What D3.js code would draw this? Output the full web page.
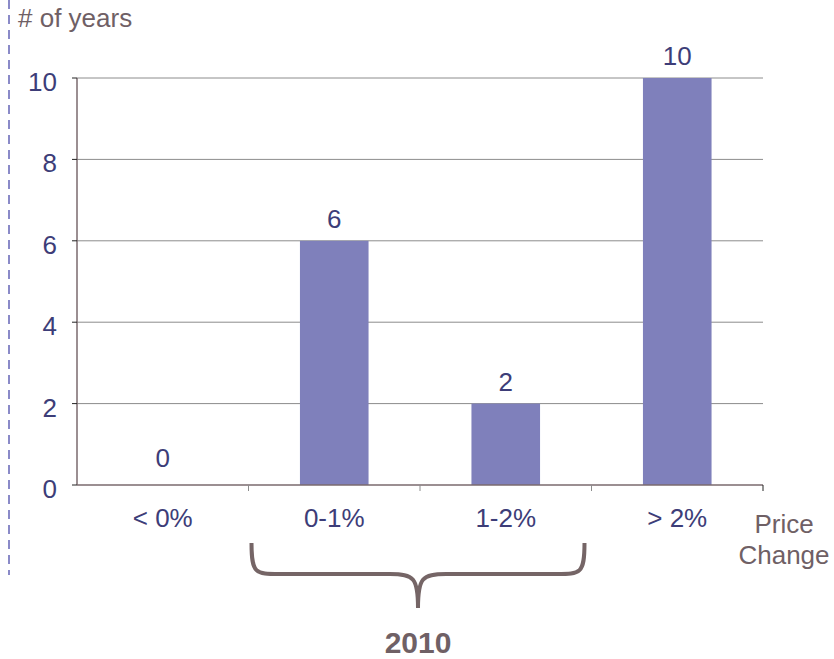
<!DOCTYPE html>
<html>
<head>
  <title>Price Change Histogram</title>
  <script src="https://d3js.org/d3.v7.min.js"></script>
  <style>
    body { margin: 0; background: #fff; }
    text { font-family: "Liberation Sans", Arial, sans-serif; }
  </style>
</head>
<body>
<svg width="834" height="659"></svg>
<script>
  const categories = ["< 0%", "0-1%", "1-2%", "> 2%"];
  const years = [0, 6, 2, 10];
  const yTicks = [0, 2, 4, 6, 8, 10];
  const bracketCats = ["0-1%", "1-2%"];
  const bracketLabel = "2010";

  const width = 834, height = 659;
  const plotLeft = 77, plotRight = 763, plotTop = 78, plotBottom = 485;

  const svg = d3.select("svg");

  const x = d3.scaleBand()
          .domain(categories)
          .range([plotLeft, plotRight])
          .paddingInner(0.6)
          .paddingOuter(0.3);
  const xEdge = d3.scaleBand().domain(categories).range([plotLeft, plotRight]);

  const y = d3.scaleLinear().domain([0, 10]).range([plotBottom, plotTop]);

  // dashed rule on the far left
  svg.append("line")
          .attr("x1", 9).attr("x2", 9)
          .attr("y1", 0).attr("y2", 575)
          .attr("stroke", "#8a8ac8")
          .attr("stroke-width", 2)
          .attr("stroke-dasharray", "9,6");

  // gridlines
  svg.selectAll(".grid")
          .data(yTicks.filter(d => d > 0))
          .enter().append("line")
          .attr("x1", plotLeft).attr("x2", plotRight)
          .attr("y1", d => y(d)).attr("y2", d => y(d))
          .attr("stroke", "#8c8c8c")
          .attr("stroke-width", 1);

  // bars
  svg.selectAll(".bar")
          .data(years)
          .enter().append("rect")
          .attr("x", (d, i) => x(categories[i]))
          .attr("width", x.bandwidth())
          .attr("y", d => y(d))
          .attr("height", d => y(0) - y(d))
          .attr("fill", "#7f80bb");

  // value labels
  svg.selectAll(".val")
          .data(years)
          .enter().append("text")
          .attr("x", (d, i) => x(categories[i]) + x.bandwidth() / 2)
          .attr("y", d => y(d) - (d === 0 ? 18 : 13))
          .attr("text-anchor", "middle")
          .attr("font-size", 26)
          .attr("fill", "#3d3d78")
          .text(d => d);

  // y axis
  svg.append("line")
          .attr("x1", plotLeft).attr("x2", plotLeft)
          .attr("y1", plotTop).attr("y2", plotBottom)
          .attr("stroke", "#7a6a6e").attr("stroke-width", 1.5);
  svg.selectAll(".ytick")
          .data(yTicks)
          .enter().append("line")
          .attr("x1", plotLeft - 5).attr("x2", plotLeft)
          .attr("y1", d => y(d)).attr("y2", d => y(d))
          .attr("stroke", "#222");
  svg.selectAll(".ylab")
          .data(yTicks)
          .enter().append("text")
          .attr("x", 57)
          .attr("y", d => y(d) + 13)
          .attr("text-anchor", "end")
          .attr("font-size", 26)
          .attr("fill", "#3d3d78")
          .text(d => d);

  // x axis
  svg.append("line")
          .attr("x1", plotLeft).attr("x2", plotRight)
          .attr("y1", plotBottom).attr("y2", plotBottom)
          .attr("stroke", "#7a6a6e").attr("stroke-width", 1.5);
  svg.selectAll(".xtick")
          .data(categories.slice(1))
          .enter().append("line")
          .attr("x1", d => xEdge(d)).attr("x2", d => xEdge(d))
          .attr("y1", plotBottom).attr("y2", plotBottom + 6)
          .attr("stroke", "#8c8c8c");
  svg.append("line")
          .attr("x1", plotRight).attr("x2", plotRight)
          .attr("y1", plotBottom).attr("y2", plotBottom + 6)
          .attr("stroke", "#222");
  svg.selectAll(".xlab")
          .data(categories)
          .enter().append("text")
          .attr("x", d => x(d) + x.bandwidth() / 2)
          .attr("y", 527)
          .attr("text-anchor", "middle")
          .attr("font-size", 26)
          .attr("fill", "#3d3d78")
          .text(d => d);

  // axis titles
  svg.append("text")
          .attr("x", 18).attr("y", 27)
          .attr("font-size", 26)
          .attr("fill", "#6f6065")
          .text("# of years");
  svg.append("text")
          .attr("x", 784).attr("y", 533)
          .attr("text-anchor", "middle")
          .attr("font-size", 26)
          .attr("fill", "#6f6065")
          .text("Price");
  svg.append("text")
          .attr("x", 784).attr("y", 564)
          .attr("text-anchor", "middle")
          .attr("font-size", 26)
          .attr("fill", "#6f6065")
          .text("Change");

  // curly brace under the 2010 categories
  const bx0 = xEdge(bracketCats[0]) + 3;
  const bx1 = xEdge(bracketCats[1]) + xEdge.bandwidth() - 7;
  const bm = (bx0 + bx1) / 2;
  const by0 = 543, by1 = 574, by2 = 608;
  const r = 28;
  const brace = d3.path();
  brace.moveTo(bx0, by0);
  brace.bezierCurveTo(bx0, by1, bx0 + 4, by1, bx0 + r, by1);
  brace.lineTo(bm - r, by1);
  brace.bezierCurveTo(bm - 4, by1, bm, by1 + 4, bm, by2);
  brace.bezierCurveTo(bm, by1 + 4, bm + 4, by1, bm + r, by1);
  brace.lineTo(bx1 - r, by1);
  brace.bezierCurveTo(bx1 - 4, by1, bx1, by1, bx1, by0);
  svg.append("path")
          .attr("d", brace.toString())
          .attr("fill", "none")
          .attr("stroke", "#756566")
          .attr("stroke-width", 4);

  svg.append("text")
          .attr("x", bm).attr("y", 653)
          .attr("text-anchor", "middle")
          .attr("font-size", 30)
          .attr("font-weight", "bold")
          .attr("fill", "#6f6065")
          .text(bracketLabel);
</script>
</body>
</html>
